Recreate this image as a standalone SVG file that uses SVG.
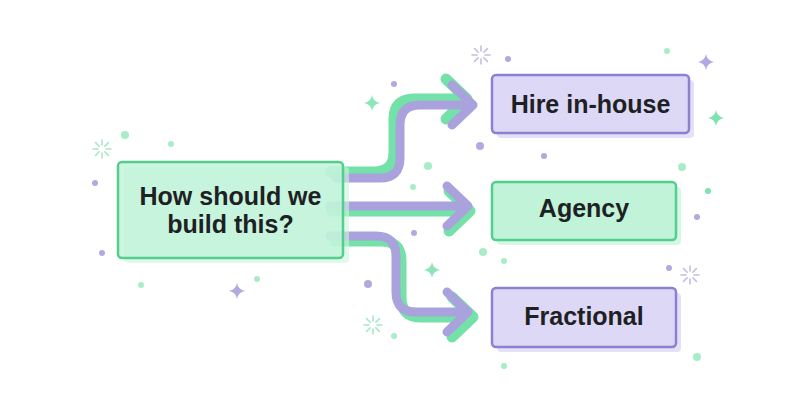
<svg xmlns="http://www.w3.org/2000/svg" width="800" height="420" viewBox="0 0 800 420">
<defs>
<style>
.lbl{font-family:"Liberation Sans",Arial,sans-serif;font-weight:700;font-size:25px;fill:#1e2124;text-anchor:middle}
.gsh{fill:#cdf5e0;fill-opacity:0.6}
.psh{fill:#e4e1f7}
.gbox{fill:#c0f3d8;fill-opacity:0.8;stroke:#52cf8d;stroke-width:2.5}
.pbox{fill:#dcd8f5;stroke:#8c80d2;stroke-width:2.5}
.g{fill:none;stroke:#74e1a9;stroke-width:11;stroke-linecap:round;stroke-linejoin:round}
.p{fill:none;stroke:#aaa2dd;stroke-width:9;stroke-linecap:round;stroke-linejoin:round}
.dp{fill:#b2a9e0}
.dg{fill:#a8ecc8}
.bp{stroke:#c4bfe0;stroke-width:1.6;stroke-linecap:round}
.bg{stroke:#a8e8c6;stroke-width:1.6;stroke-linecap:round}
</style>
<g id="burst">
<line x1="0" y1="-4" x2="0" y2="-9"/><line x1="0" y1="4" x2="0" y2="9"/>
<line x1="-4" y1="0" x2="-9" y2="0"/><line x1="4" y1="0" x2="9" y2="0"/>
<line x1="2.8" y1="2.8" x2="6.4" y2="6.4"/><line x1="-2.8" y1="2.8" x2="-6.4" y2="6.4"/>
<line x1="2.8" y1="-2.8" x2="6.4" y2="-6.4"/><line x1="-2.8" y1="-2.8" x2="-6.4" y2="-6.4"/>
</g>
<path id="spark" d="M0,-8 Q1.2,-1.2 8,0 Q1.2,1.2 0,8 Q-1.2,1.2 -8,0 Q-1.2,-1.2 0,-8Z"/>
</defs>
<rect width="800" height="420" fill="#ffffff"/>

<g id="decor">
<use href="#burst" x="481" y="55" class="bp"/>
<use href="#burst" x="690" y="275" class="bp"/>
<use href="#burst" x="102" y="149" class="bg"/>
<use href="#burst" x="373" y="325" class="bg"/>
<use href="#spark" x="706" y="62" fill="#b2a9e0"/>
<use href="#spark" x="716" y="118" fill="#7ee3ae"/>
<use href="#spark" x="372" y="103" fill="#8ee6b8"/>
<use href="#spark" x="432" y="270" fill="#8ee6b8"/>
<use href="#spark" x="237" y="291" fill="#b2a9e0"/>
<circle class="dp" cx="508" cy="59" r="3"/>
<circle class="dg" cx="667" cy="51" r="3"/>
<circle class="dp" cx="394" cy="84" r="3"/>
<circle class="dp" cx="480" cy="146" r="4"/>
<circle class="dg" cx="428" cy="166" r="4"/>
<circle class="dg" cx="413" cy="187" r="3"/>
<circle class="dp" cx="544" cy="156" r="3"/>
<circle class="dg" cx="682" cy="167" r="4"/>
<circle cx="708" cy="191" r="3" fill="#7ee3ae"/>
<circle class="dp" cx="697" cy="217" r="3"/>
<circle class="dp" cx="669" cy="268" r="3"/>
<circle class="dg" cx="697" cy="357" r="4"/>
<circle class="dp" cx="414" cy="233" r="3"/>
<circle class="dg" cx="483" cy="252" r="4"/>
<circle class="dg" cx="504" cy="261" r="3"/>
<circle class="dp" cx="368" cy="284" r="4"/>
<circle class="dg" cx="394" cy="336" r="3"/>
<circle class="dg" cx="504" cy="366" r="3"/>
<circle class="dg" cx="125" cy="135" r="4"/>
<circle class="dg" cx="171" cy="144" r="3"/>
<circle class="dp" cx="95" cy="183" r="3"/>
<circle class="dp" cx="102" cy="253" r="3"/>
<circle class="dg" cx="141" cy="285" r="3"/>
<circle class="dg" cx="257" cy="279" r="3"/>
</g>

<g id="connectors">
<g id="c-hire">
<path class="g" d="M330,172 H374 Q394,172 394,152 V119 Q394,99 414,99 H466 M446,79 L467,99 L446,119"/>
<path class="p" transform="translate(6,6)" d="M330,172 H374 Q394,172 394,152 V119 Q394,99 414,99 H466 M446,79 L467,99 L446,119"/>
</g>
<g id="c-agency">
<path class="g" transform="translate(2,5)" d="M330,206 H466 M447,186 L468,206 L447,226"/>
<path class="p" d="M330,206 H466 M447,186 L468,206 L447,226"/>
</g>
<g id="c-fractional">
<path class="g" transform="translate(5,5)" d="M330,236 H376 Q396,236 396,256 V292 Q396,312 416,312 H466 M447,292 L468,312 L447,332"/>
<path class="p" d="M330,236 H376 Q396,236 396,256 V292 Q396,312 416,312 H466 M447,292 L468,312 L447,332"/>
</g>
</g>

<g id="node-question">
<rect class="gsh" x="124" y="167" width="225" height="96" rx="4"/>
<rect class="gbox" x="118" y="162" width="225" height="96" rx="4"/>
<text class="lbl" x="230.5" y="205">How should we</text>
<text class="lbl" x="230.5" y="233">build this?</text>
</g>

<g id="node-hire">
<rect class="psh" x="497" y="80" width="197" height="58" rx="4"/>
<rect class="pbox" x="492" y="75" width="197" height="58" rx="4"/>
<text class="lbl" x="590.5" y="113">Hire in-house</text>
</g>

<g id="node-agency">
<rect x="497" y="187" width="184" height="58" rx="4" fill="#d6f7e6"/>
<rect class="gbox" x="492" y="182" width="184" height="58" rx="4" style="fill-opacity:1"/>
<text class="lbl" x="584" y="217">Agency</text>
</g>

<g id="node-fractional">
<rect class="psh" x="497" y="293" width="184" height="59" rx="4"/>
<rect class="pbox" x="492" y="288" width="184" height="59" rx="4"/>
<text class="lbl" x="584" y="325">Fractional</text>
</g>
</svg>
